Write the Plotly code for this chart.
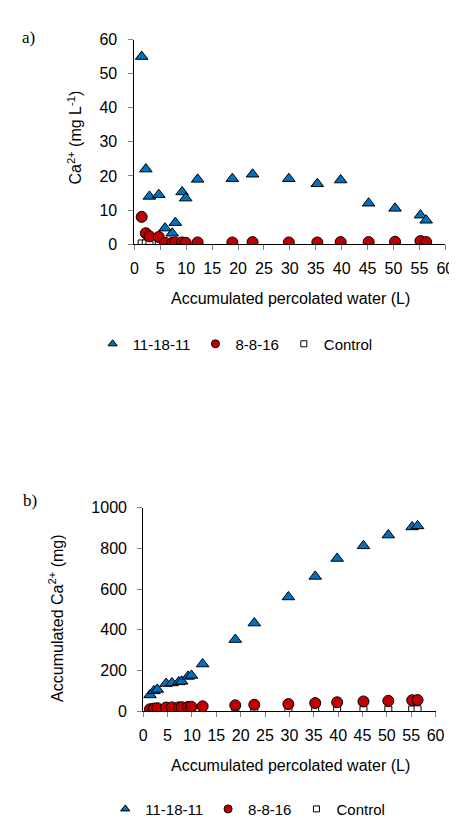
import plotly.graph_objects as go

W, H = 457, 818

# ---- data ----
volume = [1.4, 2.2, 2.9, 4.7, 5.9, 7.3, 7.9, 9.2, 9.9, 12.2, 18.9, 22.8, 29.8, 35.3, 39.8, 45.2, 50.3, 55.2, 56.3]
ca_111811 = [55, 22, 14, 14.5, 4.7, 3.2, 6.3, 15.3, 13.5, 19, 19.2, 20.5, 19.2, 17.7, 18.8, 12, 10.5, 8.5, 7]
ca_8816 = [8.0, 3.2, 2.3, 2.1, 0.4, 0.4, 0.5, 0.5, 0.4, 0.5, 0.5, 0.6, 0.5, 0.5, 0.6, 0.6, 0.7, 0.9, 0.6]
ca_control = [0.2, 0.2, 0.2, 0.2, 0.2, 0.2, 0.2, 0.2, 0.2, 0.2, 0.2, 0.2, 0.2, 0.2, 0.2, 0.2, 0.2, 0.2, 0.2]

acc_111811 = [80, 100, 107, 136, 139, 144, 147, 171, 176, 232, 352, 433, 561, 662, 750, 812, 865, 905, 910]
acc_8816 = [10, 13, 15, 18, 19, 19, 20, 21, 22, 24, 29, 32, 35, 40, 44, 48, 51, 54, 55]
acc_control = [0.5, 0.8, 1, 1.2, 1.3, 1.4, 1.5, 1.6, 1.7, 2, 3, 3.5, 4.5, 5, 6, 7, 8, 9, 9.5]

series_names = ["11-18-11", "8-8-16", "Control"]
x_ticks = [0, 5, 10, 15, 20, 25, 30, 35, 40, 45, 50, 55, 60]

BLUE = "#0070C0"
RED = "#C00000"
FONT = "Liberation Sans, Arial, sans-serif"
SERIF = "Liberation Serif, Times New Roman, serif"


def px(x):
    return x / W


def py(y):
    return 1 - y / H


fig = go.Figure()

styles = {
    "11-18-11": dict(symbol="triangle-up", color=BLUE, size=11, lsize=8),
    "8-8-16": dict(symbol="circle", color=RED, size=11, lsize=8),
    "Control": dict(symbol="square", color="white", size=7, lsize=6),
}

panels = [
    ("x", "y", "legend", [ca_111811, ca_8816, ca_control]),
    ("x2", "y2", "legend2", [acc_111811, acc_8816, acc_control]),
]

for xa, ya, leg, vals in panels:
    # draw order: control, 8-8-16, 11-18-11 (on top)
    for name, v in reversed(list(zip(series_names, vals))):
        s = styles[name]
        fig.add_trace(go.Scatter(
            x=volume, y=v, mode="markers", xaxis=xa, yaxis=ya,
            marker=dict(symbol=s["symbol"], color=s["color"], size=s["size"],
                        line=dict(color="black", width=1)),
            showlegend=False, name=name, hoverinfo="x+y"))
    # legend entries (small symbols)
    for rank, name in enumerate(series_names):
        s = styles[name]
        fig.add_trace(go.Scatter(
            x=[None], y=[None], mode="markers", xaxis=xa, yaxis=ya,
            marker=dict(symbol=s["symbol"], color=s["color"], size=s["lsize"],
                        line=dict(color="black", width=1)),
            name=name, legend=leg, legendrank=rank + 1, showlegend=True))

axis_common = dict(
    showgrid=False, zeroline=False, showline=True, linecolor="black", linewidth=1,
    ticks="outside", ticklen=5, tickcolor="#808080",
    tickfont=dict(family=FONT, size=16, color="black"),
)

fig.update_layout(
    width=W, height=H,
    margin=dict(l=0, r=0, t=0, b=0),
    paper_bgcolor="white", plot_bgcolor="white",
    xaxis=dict(domain=[px(126), px(446)], range=[0, 60], tickvals=x_ticks, anchor="y",
               ticklabelstandoff=5, **axis_common),
    yaxis=dict(domain=[py(233), py(24)], range=[0, 60], dtick=10, anchor="x",
               ticklabelstandoff=8, **axis_common),
    xaxis2=dict(domain=[px(135), px(436)], range=[0, 60], tickvals=x_ticks, anchor="y2",
                ticklabelstandoff=5, **axis_common),
    yaxis2=dict(domain=[py(710), py(502)], range=[0, 1000], dtick=200, anchor="x2",
                ticklabelstandoff=7, **axis_common),
    legend=dict(orientation="h", x=px(83), xanchor="left", y=py(335), yanchor="middle",
                font=dict(family=FONT, size=15, color="black"), bgcolor="rgba(0,0,0,0)"),
    legend2=dict(orientation="h", x=px(96), xanchor="left", y=py(810), yanchor="middle",
                 font=dict(family=FONT, size=15, color="black"), bgcolor="rgba(0,0,0,0)"),
)

ann = [
    dict(text="a)", x=px(17), y=py(22), font=dict(family=SERIF, size=17)),
    dict(text="b)", x=px(19), y=py(495), font=dict(family=SERIF, size=17)),
    dict(text="Ca<sup>2+</sup> (mg L<sup>-1</sup>)", x=px(65), y=py(124), textangle=-90,
         font=dict(family=FONT, size=16)),
    dict(text="Accumulated Ca<sup>2+</sup> (mg)", x=px(46), y=py(615), textangle=-90,
         font=dict(family=FONT, size=16)),
    dict(text="Accumulated percolated water (L)", x=px(287), y=py(289), font=dict(family=FONT, size=16)),
    dict(text="Accumulated percolated water (L)", x=px(287), y=py(765), font=dict(family=FONT, size=16)),
]
for a in ann:
    a.update(xref="paper", yref="paper", showarrow=False, xanchor="center", yanchor="middle")
    a["font"]["color"] = "black"
fig.update_layout(annotations=ann)

fig.write_html("out.html")
